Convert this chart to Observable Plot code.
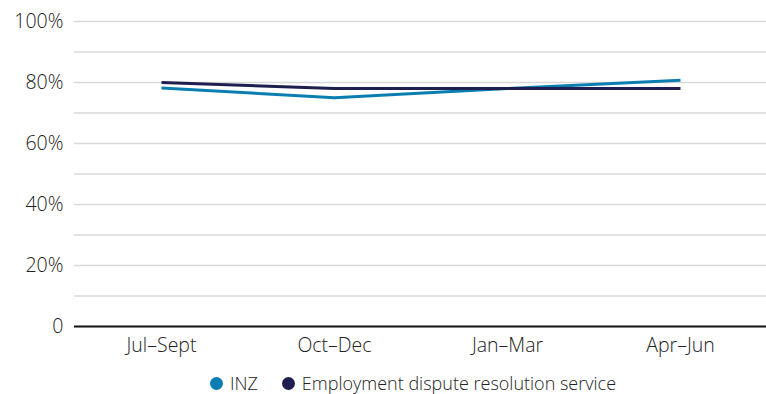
<!DOCTYPE html>
<html><head><meta charset="utf-8">
<script src="https://cdn.jsdelivr.net/npm/d3@7"></script>
<script src="https://cdn.jsdelivr.net/npm/@observablehq/plot@0.6"></script>
<style>
body{margin:0;background:#fff;font-family:"Open Sans",sans-serif;}
#legend{width:766px;height:22px;margin-top:12px;display:flex;justify-content:center;align-items:center;padding-left:60px;box-sizing:border-box;font-size:18px;font-weight:300;color:#222;}
.it{display:flex;align-items:center;margin:0 12px;}
.dot{width:13px;height:13px;border-radius:50%;margin-right:7px;}
</style></head>
<body><div id="chart"></div><div id="legend"></div>
<script>
const categories = ["Jul–Sept","Oct–Dec","Jan–Mar","Apr–Jun"];
const seriesNames = ["INZ","Employment dispute resolution service"];
const inzValues = [78.2, 75, 78, 80.7];
const edrsValues = [80, 78, 78, 78];
const colors = ["#0a7eb0","#1f1f4f"];
const yTicks = [0,20,40,60,80,100];
const gridTicks = [10,20,30,40,50,60,70,80,90,100];

const data = [];
categories.forEach((c,i)=>{
  data.push({cat:c, series:seriesNames[0], v:inzValues[i]});
  data.push({cat:c, series:seriesNames[1], v:edrsValues[i]});
});

const plot = Plot.plot({
  width:766, height:360,
  marginLeft:74, marginRight:0, marginTop:21, marginBottom:34,
  style:{fontFamily:"Open Sans, sans-serif", color:"#222", fontWeight:300},
  x:{type:"point", domain:categories, padding:0.5, label:null},
  y:{domain:[0,100], label:null},
  color:{domain:seriesNames, range:colors},
  marks:[
    Plot.gridY(gridTicks,{stroke:"#d9d9d9", strokeOpacity:1, strokeWidth:1.5}),
    Plot.ruleY([0],{stroke:"#111", strokeWidth:1.8, dx:0}),
    Plot.axisY(yTicks,{tickSize:0, tickPadding:11, fontSize:19.5, fill:"#222",
      tickFormat:d=>d===0?"0":d+"%", label:null}),
    Plot.axisX({tickSize:0, tickPadding:12, fontSize:19.5, fill:"#222", label:null}),
    Plot.line(data,{x:"cat", y:"v", z:"series", stroke:"series", strokeWidth:3, strokeLinecap:"butt"})
  ]
});
document.getElementById("chart").appendChild(plot);
const lg = document.getElementById("legend");
seriesNames.forEach((s,i)=>{
  const it=document.createElement("div");it.className="it";
  it.innerHTML=`<span class="dot" style="background:${colors[i]}"></span><span>${s}</span>`;
  lg.appendChild(it);
});
</script></body></html>
